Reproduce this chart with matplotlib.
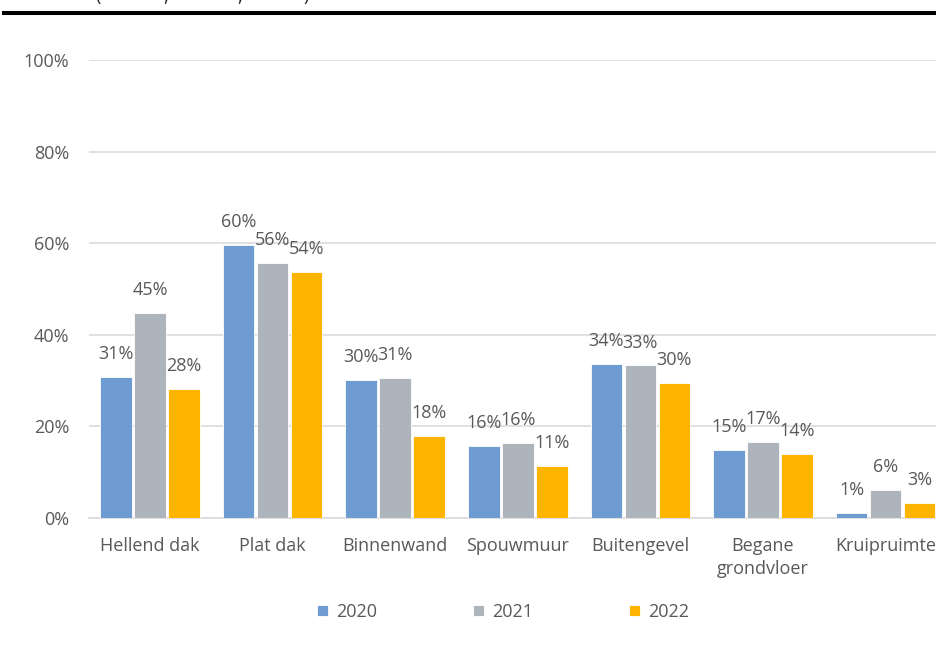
import matplotlib
matplotlib.use('Agg')
import matplotlib.pyplot as plt
from matplotlib.lines import Line2D
import numpy as np

plt.rcParams['font.family'] = ['Open Sans', 'DejaVu Sans']

categories = ["Hellend dak", "Plat dak", "Binnenwand", "Spouwmuur",
              "Buitengevel", "Begane\ngrondvloer", "Kruipruimte"]
years = ["2020", "2021", "2022"]
v2020 = [30.7, 59.6, 30.1, 15.7, 33.6, 14.9, 1.1]
v2021 = [44.7, 55.6, 30.6, 16.4, 33.3, 16.7, 6.2]
v2022 = [28.2, 53.7, 18.0, 11.4, 29.5, 14.0, 3.2]
yticks = [0, 20, 40, 60, 80, 100]

colors = ['#6D9BD2', '#ADB4BB', '#FFB400']
txt = '#595959'
grid = '#D9D9D9'
fs = 13

W, H = 937, 648
fig = plt.figure(figsize=(W / 100, H / 100), dpi=100)
# axes extends a bit past the right edge, like the cropped original
ax = fig.add_axes([88.7 / W, 1 - 518 / H, 858.2 / W, 458 / H])

x = np.arange(len(categories))
step = 0.277
width = 0.257
series = [v2020, v2021, v2022]
for i, (vals, col, yr) in enumerate(zip(series, colors, years)):
    bars = ax.bar(x + (i - 1) * step, vals, width, color=col,
                  edgecolor='white', linewidth=0.6, label=yr, zorder=3)
    for b, v in zip(bars, vals):
        ax.annotate(f"{round(v):.0f}%", (b.get_x() + b.get_width() / 2, v),
                    xytext=(0, 16.5), textcoords='offset points',
                    ha='center', va='center', fontsize=fs, color=txt)

ax.set_xlim(-0.5, len(categories) - 0.5)
ax.set_ylim(0, 100)
ax.set_yticks(yticks)
ax.set_yticklabels([f"{t}%" for t in yticks])
ax.set_xticks(x)
ax.set_xticklabels(categories, linespacing=1.3)
ax.tick_params(axis='both', length=0, labelsize=fs, colors=txt)
ax.tick_params(axis='x', pad=14)
ax.tick_params(axis='y', pad=14)
ax.yaxis.grid(True, color=grid, linewidth=1.1, zorder=0)
ax.set_axisbelow(True)
for s in ['top', 'right', 'left']:
    ax.spines[s].set_visible(False)
ax.spines['bottom'].set_color(grid)
ax.spines['bottom'].set_linewidth(1.1)

fig.legend(loc='center', bbox_to_anchor=(503 / W, 1 - 612 / H), ncol=3,
           frameon=False, fontsize=fs, labelcolor=txt,
           handlelength=0.6, handleheight=0.6, handletextpad=0.45,
           columnspacing=5.3)

# cut-off title remnant and black rule at the top
for px, ch in [(98, "("), (166, ","), (240, ","), (306, ")")]:
    fig.text(px / W, 1 - 1.5 / H, ch, ha='center', va='baseline',
             fontsize=fs, color='#222222')
fig.add_artist(Line2D([4 / W, 1], [1 - 13 / H, 1 - 13 / H],
                      color='black', linewidth=2.9))

fig.savefig('out.png', dpi=100, facecolor='white')
